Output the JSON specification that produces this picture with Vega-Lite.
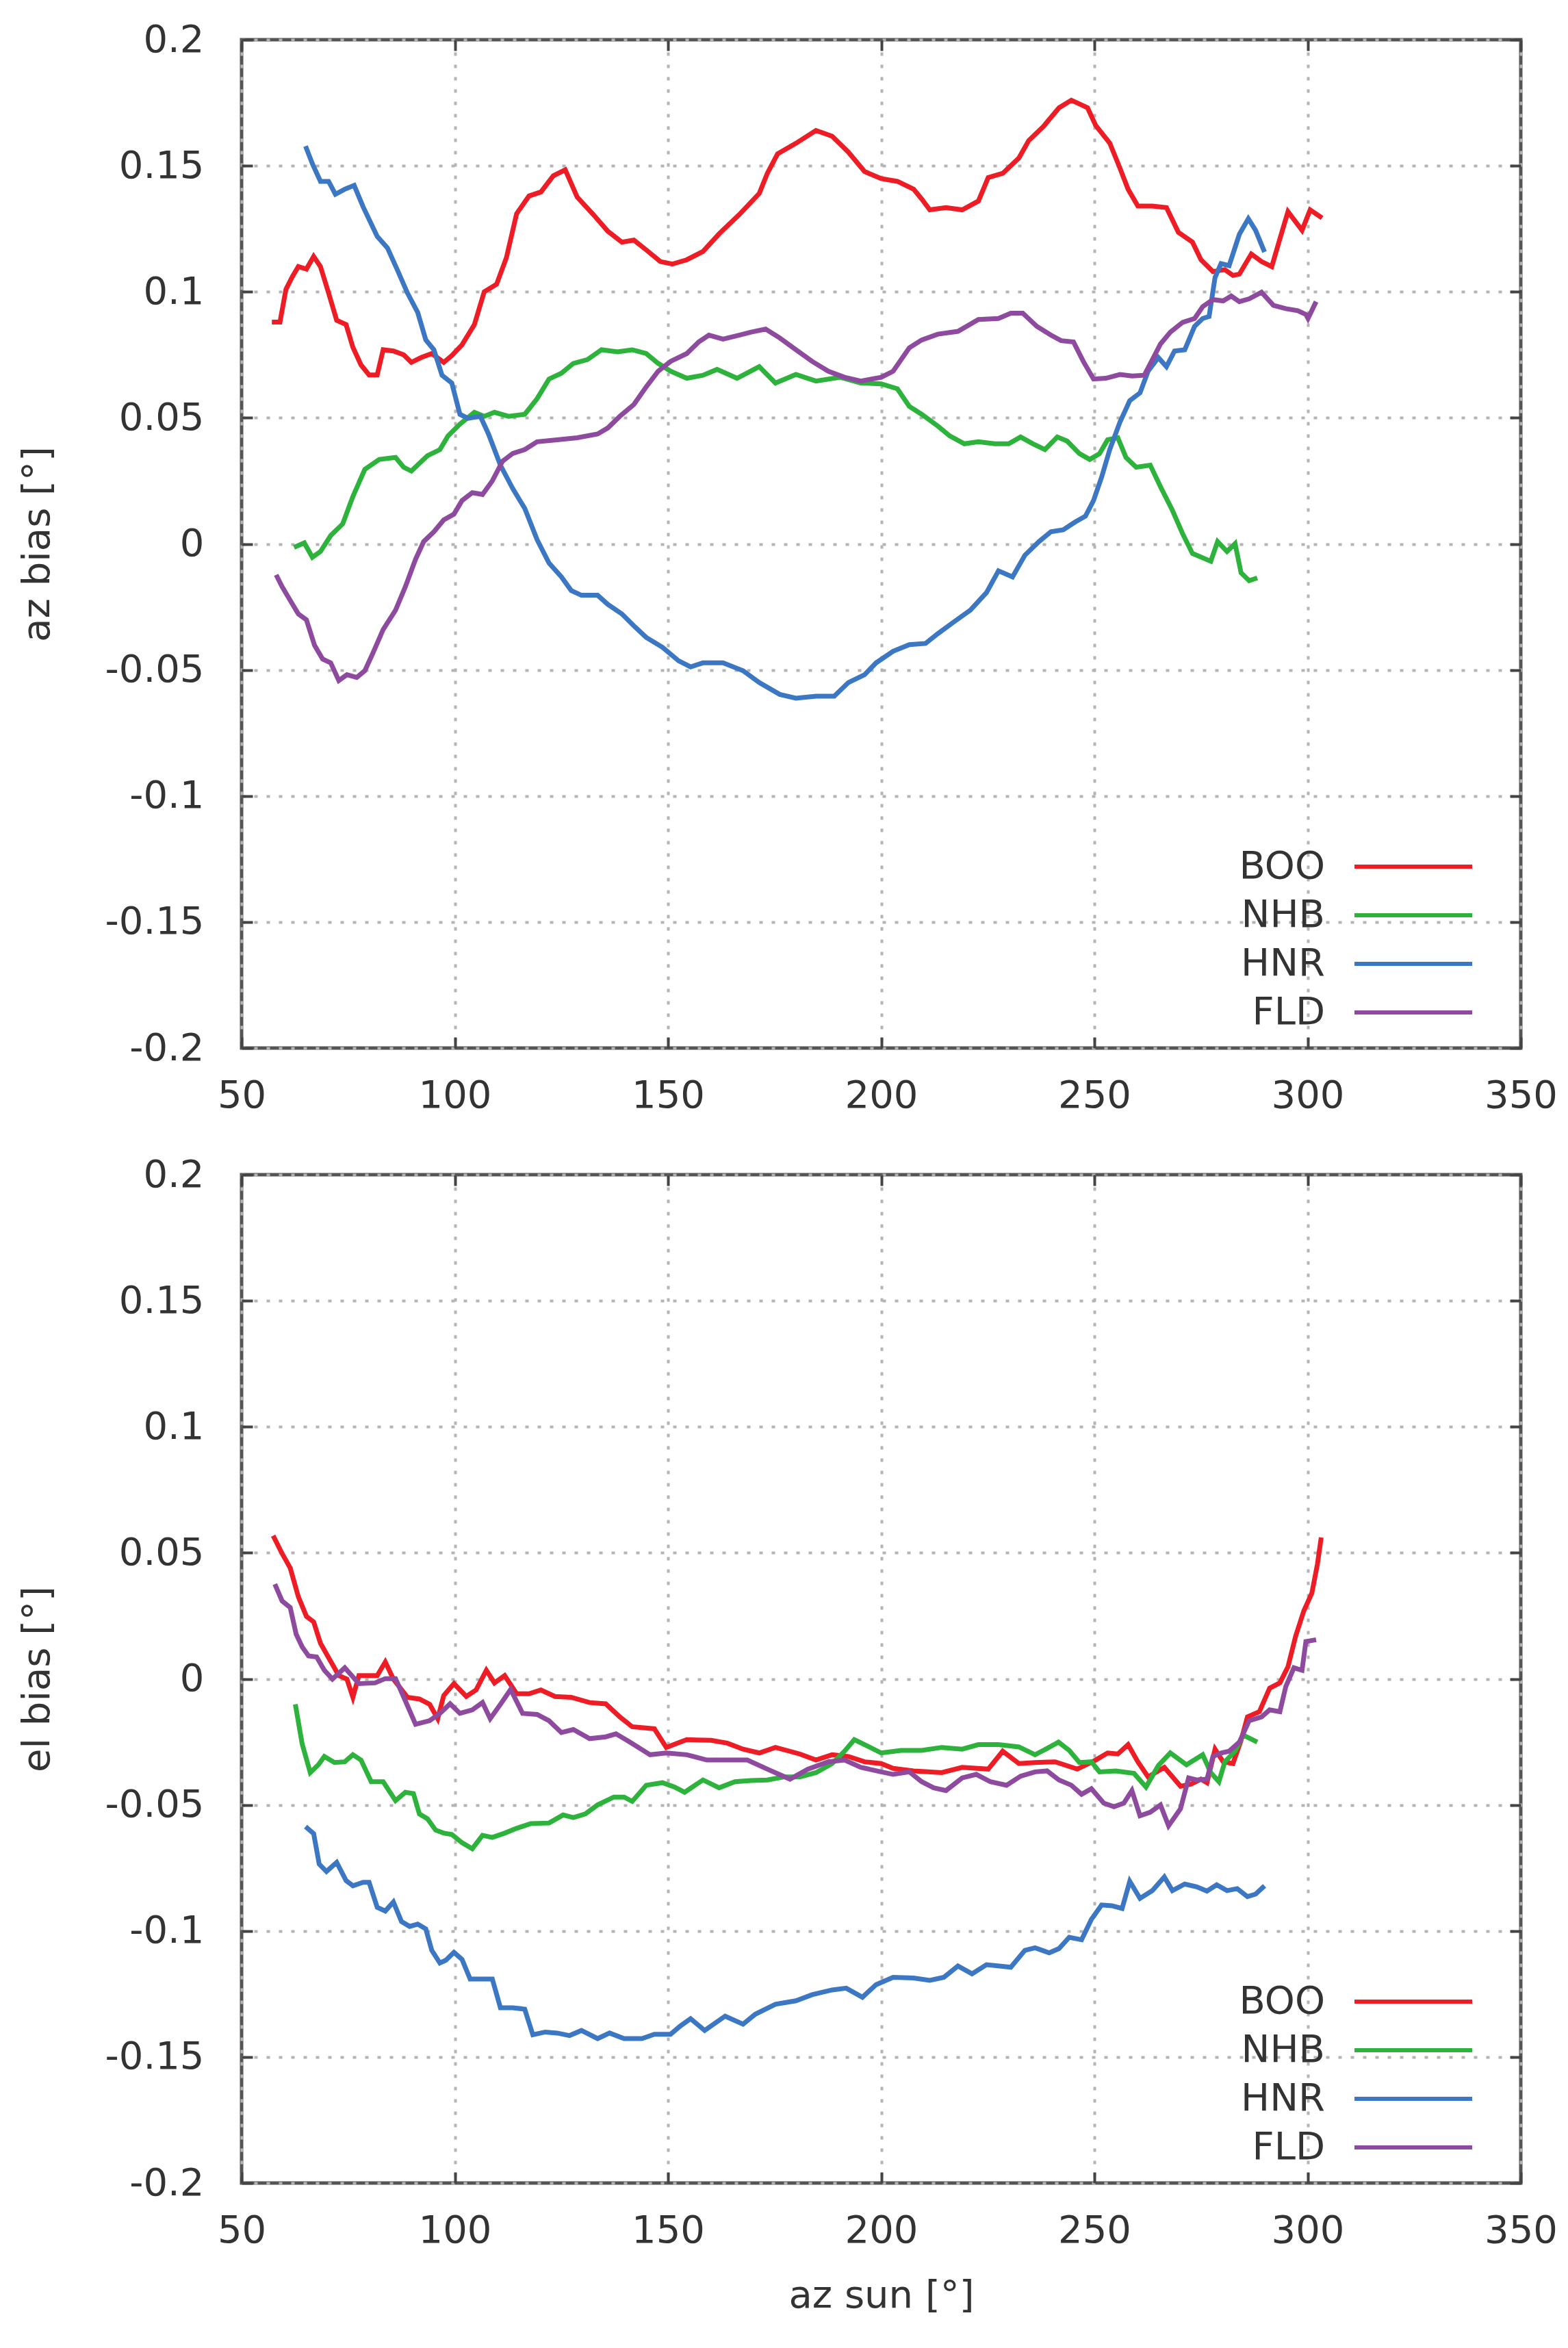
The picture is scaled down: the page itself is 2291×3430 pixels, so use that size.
{
  "$schema": "https://vega.github.io/schema/vega-lite/v6.json",
  "background": "white",
  "padding": {"left": 23, "top": 27, "right": 40, "bottom": 10},
  "spacing": 54,
  "datasets": {
    "az": [
      {"station": "BOO", "az": 57.1, "bias": 0.088}, {"station": "BOO", "az": 59, "bias": 0.088}, {"station": "BOO", "az": 60.4, "bias": 0.101}, {"station": "BOO", "az": 61.9, "bias": 0.106}, {"station": "BOO", "az": 63.3, "bias": 0.11}, {"station": "BOO", "az": 65.2, "bias": 0.109}, {"station": "BOO", "az": 66.9, "bias": 0.114}, {"station": "BOO", "az": 68.5, "bias": 0.11}, {"station": "BOO", "az": 70.4, "bias": 0.0995}, {"station": "BOO", "az": 72.3, "bias": 0.0887}, {"station": "BOO", "az": 74.5, "bias": 0.087}, {"station": "BOO", "az": 76.1, "bias": 0.078}, {"station": "BOO", "az": 78, "bias": 0.071}, {"station": "BOO", "az": 79.9, "bias": 0.067}, {"station": "BOO", "az": 81.8, "bias": 0.067}, {"station": "BOO", "az": 83.2, "bias": 0.077}, {"station": "BOO", "az": 85.6, "bias": 0.0765}, {"station": "BOO", "az": 88, "bias": 0.075}, {"station": "BOO", "az": 89.8, "bias": 0.072}, {"station": "BOO", "az": 92.2, "bias": 0.074}, {"station": "BOO", "az": 94.6, "bias": 0.0755}, {"station": "BOO", "az": 97.4, "bias": 0.072}, {"station": "BOO", "az": 99.3, "bias": 0.0747}, {"station": "BOO", "az": 101.7, "bias": 0.079}, {"station": "BOO", "az": 104.6, "bias": 0.087}, {"station": "BOO", "az": 106.9, "bias": 0.1}, {"station": "BOO", "az": 109.8, "bias": 0.103}, {"station": "BOO", "az": 112.1, "bias": 0.1135}, {"station": "BOO", "az": 114.5, "bias": 0.131}, {"station": "BOO", "az": 117.4, "bias": 0.138}, {"station": "BOO", "az": 120.2, "bias": 0.1396}, {"station": "BOO", "az": 123.1, "bias": 0.146}, {"station": "BOO", "az": 125.9, "bias": 0.1484}, {"station": "BOO", "az": 128.7, "bias": 0.1376}, {"station": "BOO", "az": 132.5, "bias": 0.1306}, {"station": "BOO", "az": 135.9, "bias": 0.124}, {"station": "BOO", "az": 139.2, "bias": 0.1197}, {"station": "BOO", "az": 142, "bias": 0.1205}, {"station": "BOO", "az": 144.9, "bias": 0.1166}, {"station": "BOO", "az": 148.2, "bias": 0.112}, {"station": "BOO", "az": 151, "bias": 0.111}, {"station": "BOO", "az": 154.4, "bias": 0.1127}, {"station": "BOO", "az": 158.2, "bias": 0.116}, {"station": "BOO", "az": 162, "bias": 0.123}, {"station": "BOO", "az": 166.7, "bias": 0.1306}, {"station": "BOO", "az": 171.4, "bias": 0.139}, {"station": "BOO", "az": 173.3, "bias": 0.147}, {"station": "BOO", "az": 175.7, "bias": 0.1547}, {"station": "BOO", "az": 180, "bias": 0.1589}, {"station": "BOO", "az": 184.7, "bias": 0.164}, {"station": "BOO", "az": 188.5, "bias": 0.1617}, {"station": "BOO", "az": 192.3, "bias": 0.1554}, {"station": "BOO", "az": 196.1, "bias": 0.1477}, {"station": "BOO", "az": 200, "bias": 0.1449}, {"station": "BOO", "az": 203.8, "bias": 0.1438}, {"station": "BOO", "az": 207.6, "bias": 0.1407}, {"station": "BOO", "az": 209.5, "bias": 0.1368}, {"station": "BOO", "az": 211.4, "bias": 0.1325}, {"station": "BOO", "az": 215.2, "bias": 0.1334}, {"station": "BOO", "az": 219, "bias": 0.1325}, {"station": "BOO", "az": 222.8, "bias": 0.136}, {"station": "BOO", "az": 225.1, "bias": 0.1453}, {"station": "BOO", "az": 228.5, "bias": 0.147}, {"station": "BOO", "az": 232.3, "bias": 0.1531}, {"station": "BOO", "az": 234.6, "bias": 0.16}, {"station": "BOO", "az": 238, "bias": 0.1655}, {"station": "BOO", "az": 241.7, "bias": 0.173}, {"station": "BOO", "az": 244.6, "bias": 0.176}, {"station": "BOO", "az": 248.4, "bias": 0.173}, {"station": "BOO", "az": 250.3, "bias": 0.166}, {"station": "BOO", "az": 253.6, "bias": 0.159}, {"station": "BOO", "az": 256, "bias": 0.149}, {"station": "BOO", "az": 257.9, "bias": 0.1407}, {"station": "BOO", "az": 260.2, "bias": 0.134}, {"station": "BOO", "az": 263.6, "bias": 0.134}, {"station": "BOO", "az": 266.9, "bias": 0.1334}, {"station": "BOO", "az": 269.7, "bias": 0.1236}, {"station": "BOO", "az": 273, "bias": 0.1197}, {"station": "BOO", "az": 275, "bias": 0.1127}, {"station": "BOO", "az": 277.8, "bias": 0.108}, {"station": "BOO", "az": 280.6, "bias": 0.1088}, {"station": "BOO", "az": 282.5, "bias": 0.1065}, {"station": "BOO", "az": 284, "bias": 0.107}, {"station": "BOO", "az": 286.8, "bias": 0.115}, {"station": "BOO", "az": 289.2, "bias": 0.112}, {"station": "BOO", "az": 291.6, "bias": 0.11}, {"station": "BOO", "az": 293.5, "bias": 0.121}, {"station": "BOO", "az": 295.4, "bias": 0.1318}, {"station": "BOO", "az": 298.7, "bias": 0.1244}, {"station": "BOO", "az": 300.6, "bias": 0.1325}, {"station": "BOO", "az": 303.4, "bias": 0.1293},
      {"station": "NHB", "az": 62.3, "bias": -0.0014}, {"station": "NHB", "az": 64.7, "bias": 0.0004}, {"station": "NHB", "az": 66.6, "bias": -0.0053}, {"station": "NHB", "az": 68.5, "bias": -0.003}, {"station": "NHB", "az": 70.9, "bias": 0.0033}, {"station": "NHB", "az": 73.7, "bias": 0.0079}, {"station": "NHB", "az": 76.1, "bias": 0.0188}, {"station": "NHB", "az": 78.9, "bias": 0.0296}, {"station": "NHB", "az": 82.3, "bias": 0.0335}, {"station": "NHB", "az": 86.1, "bias": 0.0343}, {"station": "NHB", "az": 88, "bias": 0.0304}, {"station": "NHB", "az": 89.8, "bias": 0.0289}, {"station": "NHB", "az": 93.6, "bias": 0.035}, {"station": "NHB", "az": 96.5, "bias": 0.0374}, {"station": "NHB", "az": 98.4, "bias": 0.0428}, {"station": "NHB", "az": 101.2, "bias": 0.0475}, {"station": "NHB", "az": 104.6, "bias": 0.0522}, {"station": "NHB", "az": 106.9, "bias": 0.0506}, {"station": "NHB", "az": 109.3, "bias": 0.0522}, {"station": "NHB", "az": 112.6, "bias": 0.0506}, {"station": "NHB", "az": 116.4, "bias": 0.0514}, {"station": "NHB", "az": 119.3, "bias": 0.0576}, {"station": "NHB", "az": 122.1, "bias": 0.0654}, {"station": "NHB", "az": 125, "bias": 0.0677}, {"station": "NHB", "az": 127.8, "bias": 0.0716}, {"station": "NHB", "az": 131.1, "bias": 0.0731}, {"station": "NHB", "az": 134.4, "bias": 0.077}, {"station": "NHB", "az": 138.2, "bias": 0.0762}, {"station": "NHB", "az": 141.6, "bias": 0.077}, {"station": "NHB", "az": 144.9, "bias": 0.0755}, {"station": "NHB", "az": 147.7, "bias": 0.0716}, {"station": "NHB", "az": 150.6, "bias": 0.0685}, {"station": "NHB", "az": 154.4, "bias": 0.0657}, {"station": "NHB", "az": 158.2, "bias": 0.0669}, {"station": "NHB", "az": 161.5, "bias": 0.0692}, {"station": "NHB", "az": 166.2, "bias": 0.0657}, {"station": "NHB", "az": 171.4, "bias": 0.0703}, {"station": "NHB", "az": 175.2, "bias": 0.0638}, {"station": "NHB", "az": 180, "bias": 0.0672}, {"station": "NHB", "az": 184.7, "bias": 0.0646}, {"station": "NHB", "az": 190.4, "bias": 0.0661}, {"station": "NHB", "az": 195.2, "bias": 0.0638}, {"station": "NHB", "az": 200, "bias": 0.0635}, {"station": "NHB", "az": 203.8, "bias": 0.0615}, {"station": "NHB", "az": 206.6, "bias": 0.0545}, {"station": "NHB", "az": 209.5, "bias": 0.0514}, {"station": "NHB", "az": 213.3, "bias": 0.0467}, {"station": "NHB", "az": 216.1, "bias": 0.0428}, {"station": "NHB", "az": 219.5, "bias": 0.0397}, {"station": "NHB", "az": 222.8, "bias": 0.0405}, {"station": "NHB", "az": 226.6, "bias": 0.0397}, {"station": "NHB", "az": 229.9, "bias": 0.0397}, {"station": "NHB", "az": 232.7, "bias": 0.0424}, {"station": "NHB", "az": 235.6, "bias": 0.0397}, {"station": "NHB", "az": 238.4, "bias": 0.0374}, {"station": "NHB", "az": 241.3, "bias": 0.0424}, {"station": "NHB", "az": 243.6, "bias": 0.0408}, {"station": "NHB", "az": 246.5, "bias": 0.0358}, {"station": "NHB", "az": 248.9, "bias": 0.0335}, {"station": "NHB", "az": 251.2, "bias": 0.0358}, {"station": "NHB", "az": 253.1, "bias": 0.0413}, {"station": "NHB", "az": 255.5, "bias": 0.0421}, {"station": "NHB", "az": 257.4, "bias": 0.0343}, {"station": "NHB", "az": 259.8, "bias": 0.0304}, {"station": "NHB", "az": 263.1, "bias": 0.0312}, {"station": "NHB", "az": 265.5, "bias": 0.0227}, {"station": "NHB", "az": 268.3, "bias": 0.0133}, {"station": "NHB", "az": 270.7, "bias": 0.004}, {"station": "NHB", "az": 273, "bias": -0.0038}, {"station": "NHB", "az": 277.3, "bias": -0.0069}, {"station": "NHB", "az": 278.9, "bias": 0.0009}, {"station": "NHB", "az": 281.1, "bias": -0.003}, {"station": "NHB", "az": 283, "bias": 0.0001}, {"station": "NHB", "az": 284.4, "bias": -0.0115}, {"station": "NHB", "az": 286.3, "bias": -0.0146}, {"station": "NHB", "az": 288.2, "bias": -0.0135},
      {"station": "HNR", "az": 65, "bias": 0.1578}, {"station": "HNR", "az": 66.6, "bias": 0.1508}, {"station": "HNR", "az": 68.5, "bias": 0.1438}, {"station": "HNR", "az": 70.4, "bias": 0.1438}, {"station": "HNR", "az": 72, "bias": 0.1387}, {"station": "HNR", "az": 74.2, "bias": 0.1407}, {"station": "HNR", "az": 76.4, "bias": 0.1422}, {"station": "HNR", "az": 78.5, "bias": 0.1337}, {"station": "HNR", "az": 81.8, "bias": 0.122}, {"station": "HNR", "az": 84.2, "bias": 0.1174}, {"station": "HNR", "az": 86.5, "bias": 0.1088}, {"station": "HNR", "az": 88.9, "bias": 0.0995}, {"station": "HNR", "az": 91.3, "bias": 0.0918}, {"station": "HNR", "az": 93.2, "bias": 0.0809}, {"station": "HNR", "az": 95.1, "bias": 0.077}, {"station": "HNR", "az": 97, "bias": 0.0669}, {"station": "HNR", "az": 99.3, "bias": 0.0638}, {"station": "HNR", "az": 101.2, "bias": 0.0514}, {"station": "HNR", "az": 103.1, "bias": 0.0498}, {"station": "HNR", "az": 106, "bias": 0.0506}, {"station": "HNR", "az": 107.9, "bias": 0.0436}, {"station": "HNR", "az": 110.7, "bias": 0.0312}, {"station": "HNR", "az": 113.6, "bias": 0.0219}, {"station": "HNR", "az": 116.4, "bias": 0.0141}, {"station": "HNR", "az": 119.3, "bias": 0.0017}, {"station": "HNR", "az": 122.1, "bias": -0.0076}, {"station": "HNR", "az": 125, "bias": -0.0131}, {"station": "HNR", "az": 127.3, "bias": -0.0185}, {"station": "HNR", "az": 129.7, "bias": -0.0204}, {"station": "HNR", "az": 133.5, "bias": -0.0204}, {"station": "HNR", "az": 135.9, "bias": -0.024}, {"station": "HNR", "az": 139.2, "bias": -0.0278}, {"station": "HNR", "az": 142, "bias": -0.0325}, {"station": "HNR", "az": 144.9, "bias": -0.0371}, {"station": "HNR", "az": 148.7, "bias": -0.041}, {"station": "HNR", "az": 152.5, "bias": -0.0464}, {"station": "HNR", "az": 155.3, "bias": -0.0488}, {"station": "HNR", "az": 158.2, "bias": -0.0472}, {"station": "HNR", "az": 162.9, "bias": -0.0472}, {"station": "HNR", "az": 167.6, "bias": -0.0503}, {"station": "HNR", "az": 171.4, "bias": -0.055}, {"station": "HNR", "az": 176.2, "bias": -0.0597}, {"station": "HNR", "az": 180, "bias": -0.0612}, {"station": "HNR", "az": 184.7, "bias": -0.0604}, {"station": "HNR", "az": 189, "bias": -0.0604}, {"station": "HNR", "az": 192.3, "bias": -0.055}, {"station": "HNR", "az": 196.1, "bias": -0.0519}, {"station": "HNR", "az": 198.8, "bias": -0.0472}, {"station": "HNR", "az": 202.8, "bias": -0.0426}, {"station": "HNR", "az": 206.6, "bias": -0.04}, {"station": "HNR", "az": 210.4, "bias": -0.0395}, {"station": "HNR", "az": 213.3, "bias": -0.0356}, {"station": "HNR", "az": 217.1, "bias": -0.0309}, {"station": "HNR", "az": 220.9, "bias": -0.0263}, {"station": "HNR", "az": 224.7, "bias": -0.0193}, {"station": "HNR", "az": 227.5, "bias": -0.0107}, {"station": "HNR", "az": 230.8, "bias": -0.0131}, {"station": "HNR", "az": 233.7, "bias": -0.0045}, {"station": "HNR", "az": 237, "bias": 0.0009}, {"station": "HNR", "az": 239.8, "bias": 0.0048}, {"station": "HNR", "az": 242.7, "bias": 0.0056}, {"station": "HNR", "az": 245.5, "bias": 0.0087}, {"station": "HNR", "az": 247.9, "bias": 0.011}, {"station": "HNR", "az": 249.8, "bias": 0.0172}, {"station": "HNR", "az": 251.7, "bias": 0.0265}, {"station": "HNR", "az": 253.6, "bias": 0.0374}, {"station": "HNR", "az": 256, "bias": 0.0483}, {"station": "HNR", "az": 258.3, "bias": 0.0568}, {"station": "HNR", "az": 260.7, "bias": 0.0599}, {"station": "HNR", "az": 262.6, "bias": 0.0685}, {"station": "HNR", "az": 265, "bias": 0.0739}, {"station": "HNR", "az": 266.9, "bias": 0.0703}, {"station": "HNR", "az": 268.8, "bias": 0.0765}, {"station": "HNR", "az": 271.2, "bias": 0.077}, {"station": "HNR", "az": 273.5, "bias": 0.0863}, {"station": "HNR", "az": 275.4, "bias": 0.0894}, {"station": "HNR", "az": 276.9, "bias": 0.0902}, {"station": "HNR", "az": 278.3, "bias": 0.1057}, {"station": "HNR", "az": 279.7, "bias": 0.1112}, {"station": "HNR", "az": 281.6, "bias": 0.1104}, {"station": "HNR", "az": 284, "bias": 0.1228}, {"station": "HNR", "az": 286.1, "bias": 0.129}, {"station": "HNR", "az": 287.8, "bias": 0.1244}, {"station": "HNR", "az": 289.9, "bias": 0.1158},
      {"station": "FLD", "az": 58.1, "bias": -0.0123}, {"station": "FLD", "az": 59.5, "bias": -0.017}, {"station": "FLD", "az": 61.4, "bias": -0.0224}, {"station": "FLD", "az": 63.3, "bias": -0.0278}, {"station": "FLD", "az": 65.2, "bias": -0.0301}, {"station": "FLD", "az": 67.1, "bias": -0.0402}, {"station": "FLD", "az": 69, "bias": -0.0457}, {"station": "FLD", "az": 70.9, "bias": -0.0472}, {"station": "FLD", "az": 72.8, "bias": -0.0542}, {"station": "FLD", "az": 74.7, "bias": -0.0519}, {"station": "FLD", "az": 77, "bias": -0.053}, {"station": "FLD", "az": 78.9, "bias": -0.0503}, {"station": "FLD", "az": 80.8, "bias": -0.0433}, {"station": "FLD", "az": 83.2, "bias": -0.034}, {"station": "FLD", "az": 86.1, "bias": -0.0263}, {"station": "FLD", "az": 88.4, "bias": -0.017}, {"station": "FLD", "az": 90.8, "bias": -0.0061}, {"station": "FLD", "az": 92.7, "bias": 0.0009}, {"station": "FLD", "az": 95.1, "bias": 0.0048}, {"station": "FLD", "az": 97.4, "bias": 0.0095}, {"station": "FLD", "az": 99.8, "bias": 0.0118}, {"station": "FLD", "az": 101.7, "bias": 0.0172}, {"station": "FLD", "az": 104.1, "bias": 0.0203}, {"station": "FLD", "az": 106.5, "bias": 0.0196}, {"station": "FLD", "az": 108.8, "bias": 0.025}, {"station": "FLD", "az": 111.2, "bias": 0.0328}, {"station": "FLD", "az": 113.6, "bias": 0.0359}, {"station": "FLD", "az": 116.4, "bias": 0.0374}, {"station": "FLD", "az": 119.3, "bias": 0.0405}, {"station": "FLD", "az": 124, "bias": 0.0413}, {"station": "FLD", "az": 128.7, "bias": 0.0421}, {"station": "FLD", "az": 133.5, "bias": 0.0436}, {"station": "FLD", "az": 135.9, "bias": 0.046}, {"station": "FLD", "az": 138.7, "bias": 0.0506}, {"station": "FLD", "az": 142, "bias": 0.0553}, {"station": "FLD", "az": 144.9, "bias": 0.0623}, {"station": "FLD", "az": 147.7, "bias": 0.0685}, {"station": "FLD", "az": 150.6, "bias": 0.0724}, {"station": "FLD", "az": 154.4, "bias": 0.0755}, {"station": "FLD", "az": 157.2, "bias": 0.0801}, {"station": "FLD", "az": 159.6, "bias": 0.0828}, {"station": "FLD", "az": 162.9, "bias": 0.0812}, {"station": "FLD", "az": 166.7, "bias": 0.0828}, {"station": "FLD", "az": 169.5, "bias": 0.084}, {"station": "FLD", "az": 172.9, "bias": 0.0852}, {"station": "FLD", "az": 176.2, "bias": 0.0817}, {"station": "FLD", "az": 180, "bias": 0.077}, {"station": "FLD", "az": 183.8, "bias": 0.0724}, {"station": "FLD", "az": 187.6, "bias": 0.0685}, {"station": "FLD", "az": 191.4, "bias": 0.0661}, {"station": "FLD", "az": 195.2, "bias": 0.0646}, {"station": "FLD", "az": 200, "bias": 0.0661}, {"station": "FLD", "az": 202.8, "bias": 0.0685}, {"station": "FLD", "az": 206.6, "bias": 0.0778}, {"station": "FLD", "az": 209.5, "bias": 0.0809}, {"station": "FLD", "az": 213.3, "bias": 0.0832}, {"station": "FLD", "az": 218, "bias": 0.0843}, {"station": "FLD", "az": 222.8, "bias": 0.089}, {"station": "FLD", "az": 227.5, "bias": 0.0894}, {"station": "FLD", "az": 230.4, "bias": 0.0915}, {"station": "FLD", "az": 233.2, "bias": 0.0915}, {"station": "FLD", "az": 236.5, "bias": 0.0863}, {"station": "FLD", "az": 239.8, "bias": 0.0828}, {"station": "FLD", "az": 242.2, "bias": 0.0806}, {"station": "FLD", "az": 245.1, "bias": 0.0801}, {"station": "FLD", "az": 247.4, "bias": 0.0724}, {"station": "FLD", "az": 249.8, "bias": 0.0654}, {"station": "FLD", "az": 252.7, "bias": 0.0657}, {"station": "FLD", "az": 256, "bias": 0.0672}, {"station": "FLD", "az": 258.8, "bias": 0.0666}, {"station": "FLD", "az": 261.7, "bias": 0.0669}, {"station": "FLD", "az": 263.6, "bias": 0.0731}, {"station": "FLD", "az": 265.5, "bias": 0.0793}, {"station": "FLD", "az": 267.8, "bias": 0.084}, {"station": "FLD", "az": 270.7, "bias": 0.0879}, {"station": "FLD", "az": 273.5, "bias": 0.0894}, {"station": "FLD", "az": 275.4, "bias": 0.0941}, {"station": "FLD", "az": 277.8, "bias": 0.0969}, {"station": "FLD", "az": 280.2, "bias": 0.0964}, {"station": "FLD", "az": 282.1, "bias": 0.0983}, {"station": "FLD", "az": 284, "bias": 0.0961}, {"station": "FLD", "az": 286.3, "bias": 0.0972}, {"station": "FLD", "az": 289.2, "bias": 0.0998}, {"station": "FLD", "az": 292, "bias": 0.0946}, {"station": "FLD", "az": 294.9, "bias": 0.0933}, {"station": "FLD", "az": 297.7, "bias": 0.0925}, {"station": "FLD", "az": 299.6, "bias": 0.091}, {"station": "FLD", "az": 300.1, "bias": 0.0894}, {"station": "FLD", "az": 302, "bias": 0.0961}
    ],
    "el": [
      {"station": "BOO", "az": 57.4, "bias": 0.0568}, {"station": "BOO", "az": 59.5, "bias": 0.0497}, {"station": "BOO", "az": 61.4, "bias": 0.044}, {"station": "BOO", "az": 63.3, "bias": 0.0326}, {"station": "BOO", "az": 65.2, "bias": 0.0248}, {"station": "BOO", "az": 66.9, "bias": 0.0226}, {"station": "BOO", "az": 68.5, "bias": 0.0141}, {"station": "BOO", "az": 70.4, "bias": 0.0084}, {"station": "BOO", "az": 72.8, "bias": 0.0013}, {"station": "BOO", "az": 74.7, "bias": -0.0001}, {"station": "BOO", "az": 76.1, "bias": -0.0073}, {"station": "BOO", "az": 77.5, "bias": 0.0013}, {"station": "BOO", "az": 81.8, "bias": 0.0013}, {"station": "BOO", "az": 83.7, "bias": 0.0067}, {"station": "BOO", "az": 85.6, "bias": -0.0001}, {"station": "BOO", "az": 88.9, "bias": -0.0073}, {"station": "BOO", "az": 91.7, "bias": -0.008}, {"station": "BOO", "az": 94.1, "bias": -0.0101}, {"station": "BOO", "az": 96, "bias": -0.0158}, {"station": "BOO", "az": 97.4, "bias": -0.0066}, {"station": "BOO", "az": 99.8, "bias": -0.0019}, {"station": "BOO", "az": 102.7, "bias": -0.007}, {"station": "BOO", "az": 105, "bias": -0.0044}, {"station": "BOO", "az": 107.4, "bias": 0.0034}, {"station": "BOO", "az": 109.3, "bias": -0.0016}, {"station": "BOO", "az": 111.7, "bias": 0.0013}, {"station": "BOO", "az": 114.5, "bias": -0.0059}, {"station": "BOO", "az": 117.4, "bias": -0.0059}, {"station": "BOO", "az": 120.2, "bias": -0.0044}, {"station": "BOO", "az": 123.5, "bias": -0.007}, {"station": "BOO", "az": 127.3, "bias": -0.0073}, {"station": "BOO", "az": 131.6, "bias": -0.0094}, {"station": "BOO", "az": 135.4, "bias": -0.0099}, {"station": "BOO", "az": 138.7, "bias": -0.0151}, {"station": "BOO", "az": 141.6, "bias": -0.019}, {"station": "BOO", "az": 146.8, "bias": -0.0198}, {"station": "BOO", "az": 149.6, "bias": -0.0272}, {"station": "BOO", "az": 154.4, "bias": -0.0241}, {"station": "BOO", "az": 160.1, "bias": -0.0244}, {"station": "BOO", "az": 163.9, "bias": -0.0255}, {"station": "BOO", "az": 167.6, "bias": -0.0279}, {"station": "BOO", "az": 171.4, "bias": -0.0294}, {"station": "BOO", "az": 175.2, "bias": -0.0272}, {"station": "BOO", "az": 180.9, "bias": -0.0298}, {"station": "BOO", "az": 184.7, "bias": -0.0322}, {"station": "BOO", "az": 188.5, "bias": -0.0301}, {"station": "BOO", "az": 192.3, "bias": -0.0308}, {"station": "BOO", "az": 196.1, "bias": -0.0329}, {"station": "BOO", "az": 200, "bias": -0.0336}, {"station": "BOO", "az": 202.8, "bias": -0.0355}, {"station": "BOO", "az": 207.6, "bias": -0.0365}, {"station": "BOO", "az": 214.2, "bias": -0.0372}, {"station": "BOO", "az": 219, "bias": -0.0351}, {"station": "BOO", "az": 225.1, "bias": -0.0358}, {"station": "BOO", "az": 228.5, "bias": -0.0287}, {"station": "BOO", "az": 232.3, "bias": -0.0336}, {"station": "BOO", "az": 236.1, "bias": -0.0332}, {"station": "BOO", "az": 240.8, "bias": -0.0329}, {"station": "BOO", "az": 246, "bias": -0.0358}, {"station": "BOO", "az": 250.3, "bias": -0.0322}, {"station": "BOO", "az": 253.1, "bias": -0.0294}, {"station": "BOO", "az": 255.5, "bias": -0.0298}, {"station": "BOO", "az": 257.9, "bias": -0.0261}, {"station": "BOO", "az": 260.2, "bias": -0.0329}, {"station": "BOO", "az": 262.6, "bias": -0.0389}, {"station": "BOO", "az": 266.4, "bias": -0.0351}, {"station": "BOO", "az": 270.2, "bias": -0.0426}, {"station": "BOO", "az": 272.6, "bias": -0.0418}, {"station": "BOO", "az": 275, "bias": -0.0398}, {"station": "BOO", "az": 276.4, "bias": -0.0412}, {"station": "BOO", "az": 278.3, "bias": -0.0279}, {"station": "BOO", "az": 280.2, "bias": -0.0329}, {"station": "BOO", "az": 282.5, "bias": -0.0336}, {"station": "BOO", "az": 284.4, "bias": -0.0244}, {"station": "BOO", "az": 285.9, "bias": -0.0151}, {"station": "BOO", "az": 288.7, "bias": -0.013}, {"station": "BOO", "az": 291.1, "bias": -0.0037}, {"station": "BOO", "az": 293.5, "bias": -0.0016}, {"station": "BOO", "az": 295.4, "bias": 0.0048}, {"station": "BOO", "az": 297.2, "bias": 0.0169}, {"station": "BOO", "az": 299.1, "bias": 0.0269}, {"station": "BOO", "az": 301, "bias": 0.034}, {"station": "BOO", "az": 302.3, "bias": 0.0454}, {"station": "BOO", "az": 303.2, "bias": 0.0561},
      {"station": "NHB", "az": 62.6, "bias": -0.0101}, {"station": "NHB", "az": 64.2, "bias": -0.0258}, {"station": "NHB", "az": 66.1, "bias": -0.0372}, {"station": "NHB", "az": 68, "bias": -0.0341}, {"station": "NHB", "az": 69.4, "bias": -0.0308}, {"station": "NHB", "az": 71.8, "bias": -0.0332}, {"station": "NHB", "az": 74.2, "bias": -0.0329}, {"station": "NHB", "az": 76.1, "bias": -0.0301}, {"station": "NHB", "az": 78, "bias": -0.0322}, {"station": "NHB", "az": 80.4, "bias": -0.0408}, {"station": "NHB", "az": 83.2, "bias": -0.0408}, {"station": "NHB", "az": 86.1, "bias": -0.0483}, {"station": "NHB", "az": 88.4, "bias": -0.045}, {"station": "NHB", "az": 90.3, "bias": -0.0455}, {"station": "NHB", "az": 91.7, "bias": -0.0536}, {"station": "NHB", "az": 93.6, "bias": -0.0555}, {"station": "NHB", "az": 95.5, "bias": -0.06}, {"station": "NHB", "az": 97.4, "bias": -0.0612}, {"station": "NHB", "az": 99.3, "bias": -0.0617}, {"station": "NHB", "az": 101.7, "bias": -0.065}, {"station": "NHB", "az": 104.1, "bias": -0.0674}, {"station": "NHB", "az": 106.5, "bias": -0.0621}, {"station": "NHB", "az": 108.8, "bias": -0.0629}, {"station": "NHB", "az": 111.7, "bias": -0.0612}, {"station": "NHB", "az": 114.5, "bias": -0.0593}, {"station": "NHB", "az": 117.8, "bias": -0.0574}, {"station": "NHB", "az": 122.1, "bias": -0.0572}, {"station": "NHB", "az": 125.4, "bias": -0.054}, {"station": "NHB", "az": 127.8, "bias": -0.055}, {"station": "NHB", "az": 130.6, "bias": -0.0536}, {"station": "NHB", "az": 133.5, "bias": -0.05}, {"station": "NHB", "az": 137.3, "bias": -0.0469}, {"station": "NHB", "az": 139.7, "bias": -0.0469}, {"station": "NHB", "az": 141.6, "bias": -0.0486}, {"station": "NHB", "az": 144.9, "bias": -0.0422}, {"station": "NHB", "az": 148.7, "bias": -0.0412}, {"station": "NHB", "az": 151.5, "bias": -0.0429}, {"station": "NHB", "az": 153.9, "bias": -0.045}, {"station": "NHB", "az": 158.2, "bias": -0.0401}, {"station": "NHB", "az": 162, "bias": -0.0432}, {"station": "NHB", "az": 165.7, "bias": -0.0408}, {"station": "NHB", "az": 169.5, "bias": -0.0403}, {"station": "NHB", "az": 173.3, "bias": -0.0401}, {"station": "NHB", "az": 177.1, "bias": -0.0389}, {"station": "NHB", "az": 180.9, "bias": -0.0389}, {"station": "NHB", "az": 184.7, "bias": -0.0372}, {"station": "NHB", "az": 188.5, "bias": -0.0336}, {"station": "NHB", "az": 191.4, "bias": -0.0287}, {"station": "NHB", "az": 193.7, "bias": -0.0241}, {"station": "NHB", "az": 196.6, "bias": -0.0265}, {"station": "NHB", "az": 200, "bias": -0.0294}, {"station": "NHB", "az": 204.7, "bias": -0.0284}, {"station": "NHB", "az": 209.5, "bias": -0.0284}, {"station": "NHB", "az": 214.2, "bias": -0.0272}, {"station": "NHB", "az": 219, "bias": -0.0279}, {"station": "NHB", "az": 222.8, "bias": -0.0261}, {"station": "NHB", "az": 227.5, "bias": -0.0261}, {"station": "NHB", "az": 232.3, "bias": -0.027}, {"station": "NHB", "az": 236.1, "bias": -0.0301}, {"station": "NHB", "az": 238.9, "bias": -0.0276}, {"station": "NHB", "az": 241.6, "bias": -0.0251}, {"station": "NHB", "az": 244.1, "bias": -0.0284}, {"station": "NHB", "az": 246.5, "bias": -0.0332}, {"station": "NHB", "az": 249.3, "bias": -0.0329}, {"station": "NHB", "az": 251.2, "bias": -0.0369}, {"station": "NHB", "az": 255, "bias": -0.0365}, {"station": "NHB", "az": 259.3, "bias": -0.0375}, {"station": "NHB", "az": 262.1, "bias": -0.0429}, {"station": "NHB", "az": 265, "bias": -0.0344}, {"station": "NHB", "az": 267.8, "bias": -0.0294}, {"station": "NHB", "az": 271.6, "bias": -0.0341}, {"station": "NHB", "az": 275.4, "bias": -0.0301}, {"station": "NHB", "az": 277.3, "bias": -0.0372}, {"station": "NHB", "az": 279.2, "bias": -0.0408}, {"station": "NHB", "az": 280.6, "bias": -0.0329}, {"station": "NHB", "az": 283, "bias": -0.0287}, {"station": "NHB", "az": 284.9, "bias": -0.0223}, {"station": "NHB", "az": 288.2, "bias": -0.0251},
      {"station": "HNR", "az": 65, "bias": -0.0586}, {"station": "HNR", "az": 66.9, "bias": -0.0614}, {"station": "HNR", "az": 68.2, "bias": -0.0735}, {"station": "HNR", "az": 69.9, "bias": -0.0764}, {"station": "HNR", "az": 72.3, "bias": -0.0728}, {"station": "HNR", "az": 74.5, "bias": -0.08}, {"station": "HNR", "az": 76.1, "bias": -0.0821}, {"station": "HNR", "az": 78.5, "bias": -0.0807}, {"station": "HNR", "az": 79.9, "bias": -0.0807}, {"station": "HNR", "az": 81.8, "bias": -0.0906}, {"station": "HNR", "az": 83.7, "bias": -0.0921}, {"station": "HNR", "az": 85.6, "bias": -0.0885}, {"station": "HNR", "az": 87.5, "bias": -0.0963}, {"station": "HNR", "az": 89.4, "bias": -0.0982}, {"station": "HNR", "az": 91.3, "bias": -0.0973}, {"station": "HNR", "az": 93.2, "bias": -0.0992}, {"station": "HNR", "az": 94.6, "bias": -0.1077}, {"station": "HNR", "az": 96.5, "bias": -0.1127}, {"station": "HNR", "az": 97.9, "bias": -0.1116}, {"station": "HNR", "az": 99.8, "bias": -0.1085}, {"station": "HNR", "az": 101.7, "bias": -0.1113}, {"station": "HNR", "az": 103.6, "bias": -0.1191}, {"station": "HNR", "az": 106.5, "bias": -0.1191}, {"station": "HNR", "az": 108.8, "bias": -0.1191}, {"station": "HNR", "az": 110.7, "bias": -0.1305}, {"station": "HNR", "az": 113.6, "bias": -0.1305}, {"station": "HNR", "az": 116.4, "bias": -0.131}, {"station": "HNR", "az": 118.3, "bias": -0.1412}, {"station": "HNR", "az": 121.2, "bias": -0.1401}, {"station": "HNR", "az": 124, "bias": -0.1405}, {"station": "HNR", "az": 126.9, "bias": -0.1415}, {"station": "HNR", "az": 129.7, "bias": -0.1395}, {"station": "HNR", "az": 133.5, "bias": -0.1427}, {"station": "HNR", "az": 136.3, "bias": -0.1405}, {"station": "HNR", "az": 139.7, "bias": -0.1427}, {"station": "HNR", "az": 143.9, "bias": -0.1427}, {"station": "HNR", "az": 146.8, "bias": -0.141}, {"station": "HNR", "az": 150.6, "bias": -0.141}, {"station": "HNR", "az": 152.9, "bias": -0.1377}, {"station": "HNR", "az": 155.3, "bias": -0.1348}, {"station": "HNR", "az": 158.6, "bias": -0.1395}, {"station": "HNR", "az": 163.4, "bias": -0.1338}, {"station": "HNR", "az": 167.6, "bias": -0.137}, {"station": "HNR", "az": 170.5, "bias": -0.133}, {"station": "HNR", "az": 175.2, "bias": -0.1291}, {"station": "HNR", "az": 180, "bias": -0.1277}, {"station": "HNR", "az": 183.8, "bias": -0.1253}, {"station": "HNR", "az": 188.5, "bias": -0.1234}, {"station": "HNR", "az": 191.8, "bias": -0.1227}, {"station": "HNR", "az": 195.6, "bias": -0.1263}, {"station": "HNR", "az": 198.8, "bias": -0.1213}, {"station": "HNR", "az": 202.8, "bias": -0.1184}, {"station": "HNR", "az": 207.6, "bias": -0.1187}, {"station": "HNR", "az": 211.4, "bias": -0.1196}, {"station": "HNR", "az": 214.7, "bias": -0.1184}, {"station": "HNR", "az": 218, "bias": -0.1139}, {"station": "HNR", "az": 221.3, "bias": -0.117}, {"station": "HNR", "az": 224.7, "bias": -0.1134}, {"station": "HNR", "az": 230.4, "bias": -0.1144}, {"station": "HNR", "az": 233.7, "bias": -0.1077}, {"station": "HNR", "az": 236.1, "bias": -0.1067}, {"station": "HNR", "az": 239.4, "bias": -0.1087}, {"station": "HNR", "az": 241.7, "bias": -0.107}, {"station": "HNR", "az": 244.1, "bias": -0.1025}, {"station": "HNR", "az": 247, "bias": -0.1035}, {"station": "HNR", "az": 249.3, "bias": -0.0954}, {"station": "HNR", "az": 251.7, "bias": -0.0897}, {"station": "HNR", "az": 254.1, "bias": -0.09}, {"station": "HNR", "az": 256.5, "bias": -0.0911}, {"station": "HNR", "az": 258.3, "bias": -0.0803}, {"station": "HNR", "az": 260.7, "bias": -0.0871}, {"station": "HNR", "az": 263.6, "bias": -0.084}, {"station": "HNR", "az": 266.4, "bias": -0.0786}, {"station": "HNR", "az": 268.3, "bias": -0.084}, {"station": "HNR", "az": 271.2, "bias": -0.0814}, {"station": "HNR", "az": 274, "bias": -0.0825}, {"station": "HNR", "az": 276.4, "bias": -0.0842}, {"station": "HNR", "az": 278.7, "bias": -0.0817}, {"station": "HNR", "az": 281.1, "bias": -0.084}, {"station": "HNR", "az": 283.5, "bias": -0.0832}, {"station": "HNR", "az": 285.9, "bias": -0.0864}, {"station": "HNR", "az": 287.8, "bias": -0.0854}, {"station": "HNR", "az": 289.9, "bias": -0.0821},
      {"station": "FLD", "az": 57.8, "bias": 0.0376}, {"station": "FLD", "az": 59.5, "bias": 0.0309}, {"station": "FLD", "az": 61.4, "bias": 0.0283}, {"station": "FLD", "az": 62.8, "bias": 0.0177}, {"station": "FLD", "az": 64.2, "bias": 0.0127}, {"station": "FLD", "az": 65.7, "bias": 0.0091}, {"station": "FLD", "az": 67.6, "bias": 0.0087}, {"station": "FLD", "az": 69.4, "bias": 0.0034}, {"station": "FLD", "az": 71.3, "bias": -0.0001}, {"station": "FLD", "az": 74.2, "bias": 0.0044}, {"station": "FLD", "az": 77.5, "bias": -0.0019}, {"station": "FLD", "az": 81.3, "bias": -0.0016}, {"station": "FLD", "az": 83.7, "bias": 0.0001}, {"station": "FLD", "az": 86.1, "bias": 0.0001}, {"station": "FLD", "az": 88.4, "bias": -0.0087}, {"station": "FLD", "az": 90.8, "bias": -0.018}, {"station": "FLD", "az": 94.1, "bias": -0.0166}, {"station": "FLD", "az": 96.5, "bias": -0.0137}, {"station": "FLD", "az": 98.9, "bias": -0.0099}, {"station": "FLD", "az": 101.2, "bias": -0.0137}, {"station": "FLD", "az": 104.1, "bias": -0.0123}, {"station": "FLD", "az": 106.5, "bias": -0.0094}, {"station": "FLD", "az": 108.3, "bias": -0.0158}, {"station": "FLD", "az": 110.7, "bias": -0.0101}, {"station": "FLD", "az": 113.1, "bias": -0.0042}, {"station": "FLD", "az": 115.9, "bias": -0.0137}, {"station": "FLD", "az": 119.3, "bias": -0.0141}, {"station": "FLD", "az": 122.1, "bias": -0.0166}, {"station": "FLD", "az": 125, "bias": -0.0213}, {"station": "FLD", "az": 127.8, "bias": -0.0201}, {"station": "FLD", "az": 131.6, "bias": -0.0237}, {"station": "FLD", "az": 135.4, "bias": -0.023}, {"station": "FLD", "az": 137.8, "bias": -0.0218}, {"station": "FLD", "az": 141.1, "bias": -0.0251}, {"station": "FLD", "az": 145.8, "bias": -0.0301}, {"station": "FLD", "az": 149.6, "bias": -0.0294}, {"station": "FLD", "az": 154.4, "bias": -0.0301}, {"station": "FLD", "az": 159.1, "bias": -0.0322}, {"station": "FLD", "az": 168.6, "bias": -0.0322}, {"station": "FLD", "az": 173.3, "bias": -0.0358}, {"station": "FLD", "az": 178.6, "bias": -0.0398}, {"station": "FLD", "az": 182.8, "bias": -0.0358}, {"station": "FLD", "az": 187.6, "bias": -0.0329}, {"station": "FLD", "az": 191.4, "bias": -0.0322}, {"station": "FLD", "az": 195.2, "bias": -0.0351}, {"station": "FLD", "az": 200, "bias": -0.0369}, {"station": "FLD", "az": 202.8, "bias": -0.0379}, {"station": "FLD", "az": 206.6, "bias": -0.0369}, {"station": "FLD", "az": 209.5, "bias": -0.0408}, {"station": "FLD", "az": 212.3, "bias": -0.0432}, {"station": "FLD", "az": 215.2, "bias": -0.0443}, {"station": "FLD", "az": 219, "bias": -0.0393}, {"station": "FLD", "az": 222.3, "bias": -0.0379}, {"station": "FLD", "az": 225.6, "bias": -0.0408}, {"station": "FLD", "az": 229.4, "bias": -0.0422}, {"station": "FLD", "az": 232.7, "bias": -0.0386}, {"station": "FLD", "az": 236.1, "bias": -0.0369}, {"station": "FLD", "az": 238.9, "bias": -0.0365}, {"station": "FLD", "az": 241.7, "bias": -0.0401}, {"station": "FLD", "az": 244.6, "bias": -0.0422}, {"station": "FLD", "az": 247, "bias": -0.0458}, {"station": "FLD", "az": 249.3, "bias": -0.0436}, {"station": "FLD", "az": 252.2, "bias": -0.0493}, {"station": "FLD", "az": 254.6, "bias": -0.0507}, {"station": "FLD", "az": 256.9, "bias": -0.0493}, {"station": "FLD", "az": 258.8, "bias": -0.0443}, {"station": "FLD", "az": 260.7, "bias": -0.0543}, {"station": "FLD", "az": 263.1, "bias": -0.0529}, {"station": "FLD", "az": 265.5, "bias": -0.05}, {"station": "FLD", "az": 267.4, "bias": -0.0583}, {"station": "FLD", "az": 270.2, "bias": -0.0515}, {"station": "FLD", "az": 272.1, "bias": -0.0393}, {"station": "FLD", "az": 274, "bias": -0.0401}, {"station": "FLD", "az": 276.4, "bias": -0.0398}, {"station": "FLD", "az": 277.8, "bias": -0.0308}, {"station": "FLD", "az": 279.7, "bias": -0.0294}, {"station": "FLD", "az": 281.6, "bias": -0.0287}, {"station": "FLD", "az": 284, "bias": -0.0251}, {"station": "FLD", "az": 286.3, "bias": -0.0166}, {"station": "FLD", "az": 289.2, "bias": -0.0151}, {"station": "FLD", "az": 291.1, "bias": -0.0123}, {"station": "FLD", "az": 293.5, "bias": -0.013}, {"station": "FLD", "az": 294.9, "bias": -0.003}, {"station": "FLD", "az": 296.8, "bias": 0.0044}, {"station": "FLD", "az": 298.7, "bias": 0.0034}, {"station": "FLD", "az": 299.6, "bias": 0.0148}, {"station": "FLD", "az": 302, "bias": 0.0155}
    ]
  },
  "vconcat": [
    {
      "data": {"name": "az"},
      "width": 1869,
      "height": 1473,
      "layer": [
        {
          "mark": {"type": "line", "strokeWidth": 7},
          "encoding": {
            "x": {"field": "az", "type": "quantitative", "scale": {"domain": [50, 350], "nice": false, "zero": false},
                  "axis": {"values": [50, 100, 150, 200, 250, 300, 350], "title": null}},
            "y": {"field": "bias", "type": "quantitative", "scale": {"domain": [-0.2, 0.2], "nice": false, "zero": false},
                  "axis": {"values": [-0.2, -0.15, -0.1, -0.05, 0, 0.05, 0.1, 0.15, 0.2], "labelExpr": "'' + datum.value", "title": "az bias [°]"}},
            "color": {"field": "station", "type": "nominal",
                      "scale": {"domain": ["BOO", "NHB", "HNR", "FLD"], "range": ["#ee1c25", "#2db33c", "#3b77c3", "#8e4a9f"]}}
          }
        },
        {
          "mark": {"type": "point", "opacity": 0},
          "encoding": {
            "x": {"field": "az", "type": "quantitative", "scale": {"domain": [50, 350], "nice": false, "zero": false},
                  "axis": {"orient": "top", "values": [50, 100, 150, 200, 250, 300, 350], "labels": false, "grid": false, "title": null}},
            "y": {"field": "bias", "type": "quantitative", "scale": {"domain": [-0.2, 0.2], "nice": false, "zero": false},
                  "axis": {"orient": "right", "values": [-0.2, -0.15, -0.1, -0.05, 0, 0.05, 0.1, 0.15, 0.2], "labels": false, "grid": false, "title": null}}
          }
        }
      ],
      "resolve": {"axis": {"x": "independent", "y": "independent"}}
    },
    {
      "data": {"name": "el"},
      "width": 1869,
      "height": 1473,
      "layer": [
        {
          "mark": {"type": "line", "strokeWidth": 7},
          "encoding": {
            "x": {"field": "az", "type": "quantitative", "scale": {"domain": [50, 350], "nice": false, "zero": false},
                  "axis": {"values": [50, 100, 150, 200, 250, 300, 350], "title": "az sun [°]"}},
            "y": {"field": "bias", "type": "quantitative", "scale": {"domain": [-0.2, 0.2], "nice": false, "zero": false},
                  "axis": {"values": [-0.2, -0.15, -0.1, -0.05, 0, 0.05, 0.1, 0.15, 0.2], "labelExpr": "'' + datum.value", "title": "el bias [°]"}},
            "color": {"field": "station", "type": "nominal",
                      "scale": {"domain": ["BOO", "NHB", "HNR", "FLD"], "range": ["#ee1c25", "#2db33c", "#3b77c3", "#8e4a9f"]}}
          }
        },
        {
          "mark": {"type": "point", "opacity": 0},
          "encoding": {
            "x": {"field": "az", "type": "quantitative", "scale": {"domain": [50, 350], "nice": false, "zero": false},
                  "axis": {"orient": "top", "values": [50, 100, 150, 200, 250, 300, 350], "labels": false, "grid": false, "title": null}},
            "y": {"field": "bias", "type": "quantitative", "scale": {"domain": [-0.2, 0.2], "nice": false, "zero": false},
                  "axis": {"orient": "right", "values": [-0.2, -0.15, -0.1, -0.05, 0, 0.05, 0.1, 0.15, 0.2], "labels": false, "grid": false, "title": null}}
          }
        }
      ],
      "resolve": {"axis": {"x": "independent", "y": "independent"}}
    }
  ],
  "resolve": {"legend": {"color": "independent"}},
  "config": {
    "view": {"stroke": "#555555", "strokeWidth": 5},
    "axis": {
      "domain": false, "labelFlush": false,
      "labelFont": "DejaVu Sans", "labelFontSize": 56, "labelColor": "#333333",
      "titleFont": "DejaVu Sans", "titleFontSize": 56, "titleFontWeight": "normal", "titleColor": "#333333",
      "tickColor": "#444444", "tickSize": -16, "tickWidth": 4,
      "gridColor": "#b4b4b4", "gridDash": [5, 13], "gridWidth": 4
    },
    "axisX": {"labelPadding": 58, "titlePadding": 40},
    "axisY": {"labelPadding": 71, "titlePadding": 70},
    "legend": {
      "orient": "none", "legendX": 1684, "legendY": 1180, "title": null, "padding": 0,
      "symbolType": "M-4,0H4", "symbolSize": 1849, "symbolStrokeWidth": 6, "symbolOffset": 0,
      "labelAlign": "right", "labelOffset": -157, "labelFont": "DejaVu Sans", "labelFontSize": 56, "labelColor": "#333333",
      "rowPadding": 15
    }
  }
}
